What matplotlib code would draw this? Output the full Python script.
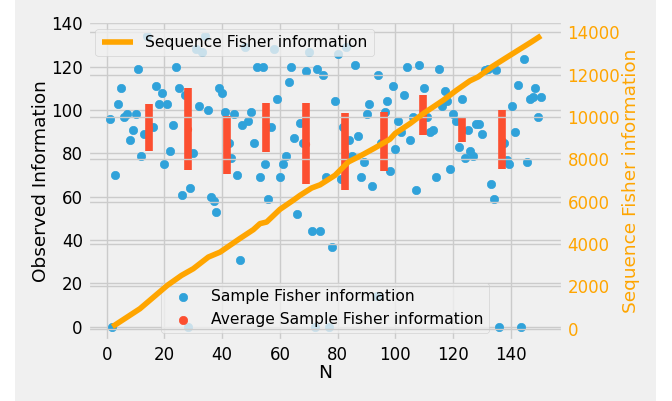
import numpy as np
import matplotlib
matplotlib.use("Agg")
import matplotlib.pyplot as plt
from matplotlib.patches import Rectangle

# sample Fisher information (scatter)
sample_n = [1, 2, 3, 4, 5, 6, 7, 8, 9, 10, 11, 12, 13, 14, 16, 17, 18, 19, 20,
            21, 22, 23, 24, 25, 26, 27, 28, 29, 30, 31, 32, 33, 34, 35, 36, 37,
            38, 39, 40, 41, 42.5, 43, 44, 45, 46, 47, 48, 49, 50, 51, 52, 53,
            54, 55, 56, 57, 58, 59, 60, 61, 62, 63, 64, 65, 66, 67, 68, 69, 70,
            71, 72, 73, 74, 75, 76, 77, 78, 79, 80, 81, 82, 83, 84, 85, 86, 87,
            88, 89, 90, 91, 92, 93.5, 94, 95, 96.5, 97, 98, 99, 100, 101, 102,
            103, 104, 105, 106, 107, 108, 110, 111, 112, 113, 114, 115, 116,
            117, 118, 119, 120, 121, 122, 123, 124, 125, 126, 127, 128, 129,
            130, 131, 132, 133, 134, 135, 136, 137.5, 138.5, 139.5, 140.5,
            141.5, 142.5, 143.5, 144.5, 145.5, 146.5, 147.5, 148.5, 149.5, 150.5]
sample_info = [96, 0, 70, 103, 110, 97, 98, 86, 91, 98, 119, 79, 89, 134, 92,
               111, 103, 108, 75, 103, 81, 93, 120, 110, 61, 107, 0, 64, 80,
               128, 102, 127, 134, 100, 60, 58, 53, 110, 108, 99, 85, 78, 98,
               70, 31, 93, 129, 95, 99, 85, 120, 69, 120, 75, 59, 92, 128, 105,
               69, 75, 79, 113, 120, 87, 52, 94, 85, 118, 127, 44, 0, 119, 44,
               116, 69, 0, 37, 104, 126, 68, 92, 129, 86, 79, 121, 88, 69, 76,
               98, 103, 65, 14, 116, 85, 99, 104, 72, 111, 82, 95, 90, 107, 120,
               86, 97, 63, 121, 110, 97, 90, 91, 69, 119, 102, 109, 104, 73, 98,
               95, 83, 105, 78, 91, 81, 79, 93.5, 93.5, 89, 118.5, 119, 66, 59,
               118.5, 0, 85, 77, 75, 102, 90, 111.5, 0, 123.5, 76, 105, 106,
               110, 97, 106]

# average sample Fisher information (red bars)
bar_n = [14.6, 28.2, 41.7, 55.3, 69.0, 82.5, 96.1, 109.6, 123.2, 136.9]
bar_mean = [91.85, 91.15, 83.75, 91.95, 84.4, 80.8, 85.6, 97.7, 90.85, 86.3]
bar_err = [10.75, 18.85, 13.45, 11.45, 18.7, 17.7, 13.6, 9.2, 5.75, 13.7]

# sequence Fisher information (orange line, right axis)
seq_n = [2, 11.5, 21, 25.9, 30, 35.2, 39.3, 46.2, 50.8, 53.1, 55.4, 60, 64.6,
         67, 71, 73.9, 79.1, 83.7, 88.3, 92.9, 98.1, 99.9, 105.1, 109.7, 116.6,
         121.2, 125.8, 128.7, 133.4, 138, 142.6, 147.2, 150.4]
seq_info = [100, 946, 2050, 2521, 2838, 3387, 3623, 4270, 4683, 4967, 5043,
            5640, 6069, 6306, 6651, 6800, 7252, 7881, 8198, 8543, 8955, 9224,
            9697, 10170, 10799, 11272, 11712, 11902, 12375, 12772, 13165,
            13557, 13841]

plt.style.use('fivethirtyeight')
plt.rcParams['font.family'] = ['DejaVu Sans']

fig = plt.figure(figsize=(6.72, 4.01), dpi=100, facecolor='white')
fig.patches.append(Rectangle((15 / 672, 0), 641 / 672, 1, transform=fig.transFigure,
                             facecolor='#f0f0f0', edgecolor='none', zorder=-10))
ax1 = fig.add_axes([0.1304, 0.1491, 0.7068, 0.7980])

ax1.scatter(sample_n, sample_info, s=36, color='#30a2da', zorder=2,
            label='Sample Fisher information')
ax1.scatter(bar_n, bar_mean, s=22, color='#fc4f30', zorder=2.5,
            label='Average Sample Fisher information')
ax1.errorbar(bar_n, bar_mean, yerr=bar_err, fmt='none', ecolor='#fc4f30',
             elinewidth=5.5, capsize=0, zorder=3)
ax1.set_xlim(-6.6, 157.9)
ax1.set_ylim(-6.7, 141.0)
ax1.set_xlabel('N', fontsize=13.3, labelpad=0)
ax1.set_ylabel('Observed Information', fontsize=13.3, labelpad=1)
ax1.tick_params(labelsize=12)
leg1 = ax1.legend(loc='lower center', fontsize=11.2)
leg1.legend_handles[1].set_sizes([36])

ax2 = ax1.twinx()
ax2.plot(seq_n, seq_info, color='orange', linewidth=4,
         label='Sequence Fisher information')
ax2.set_ylim(-587, 14528)
ax2.set_ylabel('Sequence Fisher information', color='orange', fontsize=13.3,
               labelpad=1)
ax2.tick_params(axis='y', colors='orange', labelsize=12)
ax2.legend(loc='upper left', fontsize=11.2)

fig.savefig('out.png', dpi=100, facecolor='white')
